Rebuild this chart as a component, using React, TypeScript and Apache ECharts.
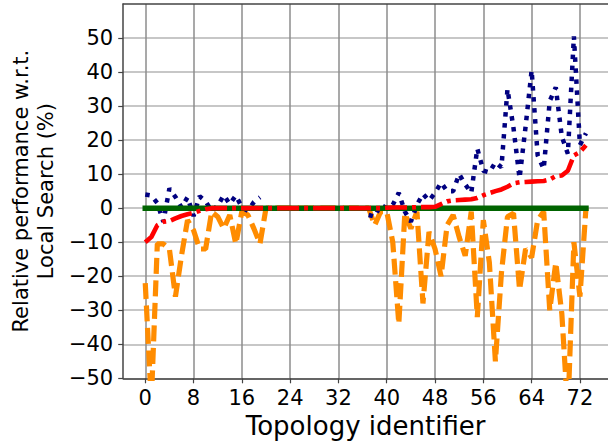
import React, { useEffect, useRef } from 'react';
import * as echarts from 'echarts';

const topologyIds = [
  0, 1, 2, 3, 4, 5, 6, 7, 8, 9, 10, 11, 12, 13, 14, 15, 16, 17, 18, 19,
  20, 21, 22, 23, 24, 25, 26, 27, 28, 29, 30, 31, 32, 33, 34, 35, 36, 37, 38, 39,
  40, 41, 42, 43, 44, 45, 46, 47, 48, 49, 50, 51, 52, 53, 54, 55, 56, 57, 58, 59,
  60, 61, 62, 63, 64, 65, 66, 67, 68, 69, 70, 71, 72, 73,
];

const xTicks = [0, 8, 16, 24, 32, 40, 48, 56, 64, 72];
const yTicks = [-50, -40, -30, -20, -10, 0, 10, 20, 30, 40, 50];

// Baseline: Local Search (green)
const localSearch = [
  0, 0, 0, 0, 0, 0, 0, 0, 0, 0, 0, 0, 0, 0, 0, 0, 0, 0, 0, 0,
  0, 0, 0, 0, 0, 0, 0, 0, 0, 0, 0, 0, 0, 0, 0, 0, 0, 0, 0, 0,
  0, 0, 0, 0, 0, 0, 0, 0, 0, 0, 0, 0, 0, 0, 0, 0, 0, 0, 0, 0,
  0, 0, 0, 0, 0, 0, 0, 0, 0, 0, 0, 0, 0, 0,
];

// Red dash-dot (sorted)
const methodRed = [
  -10, -8.5, -5, -4, -3.8, -3, -2.3, -1.8, -1.4, -0.8, -0.3, 0, 0, 0, 0, 0, 0, 0, 0, 0,
  0, 0, 0, 0, 0, 0, 0, 0, 0, 0, 0, 0, 0, 0, 0, 0, 0, 0, 0, 0,
  0.1, 0.2, 0.2, 0.2, 0.2, 0.3, 0.3, 0.3, 0.4, 1.2, 2.0, 2.3, 2.4, 2.5, 2.6, 3.0, 3.8, 4.4, 5.0, 5.5,
  6.3, 7.3, 7.6, 7.7, 7.8, 7.9, 8.0, 8.4, 9.4, 9.6, 11, 15.5, 16.5, 18.5,
];

// Blue dotted
const methodBlue = [
  4, 3.7, 1.5, -4, 5.8, 3.3, 0.2, 3.2, -2.3, 3.5, 2, -0.8, 0.7, 3.8, 1.2, 3.7, 0.3, -0.8, 1.8, 3.2,
  null, null, null, null, null, null, null, null, null, null, null, null, null, null, null, null, null, -2, -2.5, 1,
  0, 1, 4.5, -1, -4, 1, 4.2, 2.2, 4.5, 7.5, 5, 5, 10, 7, 4.5, 17.5, 11, 10.5, 13.5, 12,
  35, 23.5, 8.8, 24, 40.5, 15.5, 11.5, 31.5, 35.5, 21, 16, 50.5, 18.5, 22,
];

// Orange dashed
const methodOrange = [
  -22, -57, -10.5, -10.5, -12, -26, -14, -3.5, -6.5, -12, -12, -1, -2.5, -6, -2, -10.5, -1, -2, -6, -10.5,
  0, 0, 0, 0, 0, 0, 0, 0, 0, 0, 0, 0, 0, 0, 0, 0, 0, 0, -5, -1,
  -1, -10, -34, -1.5, -6, -1, -28, -7, -12, -20, -5, -2, -8.5, -14, -1, -32, -3.5, -16, -45, -19,
  -2.5, -1.5, -24, -12, -14.5, -3.5, -1, -30, -16, -31, -60, -10, -26, 0,
];

const FONT = 'DejaVu Sans';

function toPairs(values: (number | null)[]) {
  return values.map((v, i) => [topologyIds[i], v === null ? '-' : v]);
}

export default function App() {
  const ref = useRef<HTMLDivElement>(null);
  useEffect(() => {
    if (!ref.current) return;
    const chart = echarts.init(ref.current, undefined, { renderer: 'svg' });
    const fmt = (v: number) => (v < 0 ? '\u2212' + Math.abs(v) : String(v));
    chart.setOption({
      animation: false,
      backgroundColor: '#ffffff',
      grid: { left: 122.6, right: -6.9, top: 4, bottom: 68.7, containLabel: false },
      xAxis: [
        {
          type: 'value',
          min: -3.65,
          max: 76.65,
          name: 'Topology identifier',
          nameLocation: 'middle',
          nameGap: 34,
          nameTextStyle: { fontFamily: FONT, fontSize: 26, color: '#000' },
          axisLine: { show: true, onZero: false, lineStyle: { color: '#444', width: 1.5 } },
          axisTick: { show: true, inside: false, length: 5, customValues: xTicks, lineStyle: { color: '#444', width: 1.2 } },
          axisLabel: { customValues: xTicks, fontFamily: FONT, fontSize: 21, color: '#000', margin: 9, formatter: fmt },
          splitLine: { show: true, lineStyle: { color: '#8c8c8c', width: 1.5 } },
        },
        {
          type: 'value',
          position: 'top',
          min: -3.65,
          max: 76.65,
          axisLine: { show: true, onZero: false, lineStyle: { color: '#444', width: 1.5 } },
          axisTick: { show: false },
          axisLabel: { show: false },
          splitLine: { show: false },
        },
      ],
      yAxis: {
        type: 'value',
        min: -50,
        max: 60,
        name: 'Relative performance w.r.t.\nLocal Search (%)',
        nameLocation: 'middle',
        nameGap: 63,
        nameTextStyle: { fontFamily: FONT, fontSize: 21, lineHeight: 25, color: '#000', align: 'center' },
        axisLine: { show: true, onZero: false, lineStyle: { color: '#444', width: 1.5 } },
        axisTick: { show: true, inside: false, length: 5, customValues: yTicks, lineStyle: { color: '#444', width: 1.2 } },
        axisLabel: { customValues: yTicks, fontFamily: FONT, fontSize: 21, color: '#000', margin: 10, formatter: fmt },
        splitLine: { show: true, lineStyle: { color: '#b4b4b4', width: 1.5 } },
      },
      series: [
        {
          name: 'Method C',
          type: 'line',
          data: toPairs(methodOrange),
          showSymbol: false,
          symbol: 'none',
          clip: true,
          z: 2,
          lineStyle: { color: '#ff8c00', width: 5.2, type: [16, 6.5], cap: 'butt' },
        },
        {
          name: 'Method B',
          type: 'line',
          data: toPairs(methodBlue),
          showSymbol: false,
          symbol: 'none',
          connectNulls: false,
          clip: true,
          z: 3,
          lineStyle: { color: '#000080', width: 4.5, type: [4.5, 6.5], cap: 'butt' },
        },
        {
          name: 'Local Search',
          type: 'line',
          data: toPairs(localSearch),
          showSymbol: false,
          symbol: 'none',
          clip: true,
          z: 4,
          lineStyle: { color: '#006400', width: 5.5, type: 'solid', cap: 'square' },
        },
        {
          name: 'Method A',
          type: 'line',
          data: toPairs(methodRed),
          showSymbol: false,
          symbol: 'none',
          clip: true,
          z: 5,
          lineStyle: { color: '#ff0000', width: 4.6, type: [22, 5, 4, 5], cap: 'butt' },
        },
      ],
    });
    return () => chart.dispose();
  }, []);
  return (
    <div
      ref={ref}
      style={{ position: 'fixed', left: 0, top: 0, width: 608, height: 447, background: '#fff' }}
    />
  );
}
